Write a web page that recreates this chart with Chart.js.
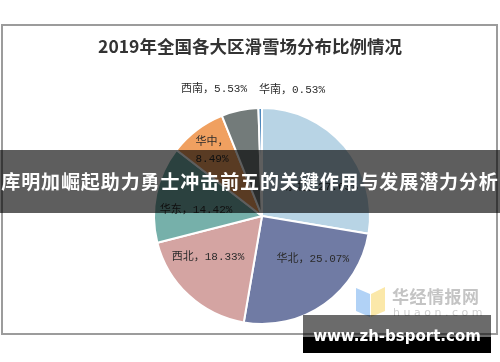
<!DOCTYPE html>
<html>
<head>
<meta charset="utf-8">
<script src="https://cdn.jsdelivr.net/npm/chart.js@4/dist/chart.umd.min.js"></script>
<style>
  html, body { margin: 0; padding: 0; background: #fff; }
  #wrap { position: relative; width: 500px; height: 362px; overflow: hidden; background: #fff; }
  #frame { position: absolute; left: 1px; top: 24px; width: 497px; height: 311px; box-sizing: border-box; border: 2px solid #9c9c9c; }
  #c { position: absolute; left: 0; top: 0; }
  #title { position: absolute; left: 0; top: 34px; width: 500px; text-align: center; font: bold 17.5px "Noto Sans CJK SC", serif; color: #333; line-height: 24px; }
  #banner { position: absolute; left: 0; top: 150px; width: 500px; height: 63px; background: rgba(0,0,0,0.63); }
  #bannerText { position: absolute; left: -2px; top: 168px; width: 504px; text-align: center; font: bold 19px "Noto Sans CJK SC", sans-serif; letter-spacing: 0.9px; color: #fff; line-height: 26px; white-space: nowrap; }
  #logoText { position: absolute; left: 392px; top: 285px; font: bold 17px "Noto Sans CJK SC", sans-serif; color: #c4c4c4; line-height: 22px; letter-spacing: 0.5px; }
  #logoSub { position: absolute; left: 393px; top: 307px; font: 11px "DejaVu Sans", sans-serif; color: #d0d0d0; letter-spacing: 3.5px; line-height: 12px; }
  #logoIcon { position: absolute; left: 355px; top: 286px; }
  #bandGray { position: absolute; left: 303px; top: 315px; width: 188px; height: 22px; background: rgba(0,0,0,0.58); }
  #bandBlack { position: absolute; left: 303px; top: 337px; width: 188px; height: 16px; background: #000; }
  #site { position: absolute; left: 303px; top: 329px; width: 188px; text-align: center; font: bold 15px "DejaVu Sans", sans-serif; color: #fff; line-height: 15px; }
</style>
</head>
<body>
<div id="wrap">
  <div id="frame"></div>
  <canvas id="c" width="500" height="362"></canvas>
  <div id="title">2019年全国各大区滑雪场分布比例情况</div>
  <svg id="logoIcon" width="32" height="32" viewBox="0 0 32 32">
    <polygon points="1,2 15,8 15,31 1,25" fill="#a9cdf5" opacity="0.9"/>
    <polygon points="16,8 30,1 30,25 16,31" fill="#fbe6a0" opacity="0.9"/>
  </svg>
  <div id="logoText">华经情报网</div>
  <div id="logoSub">huaon.com</div>
  <div id="banner"></div>
  <div id="bannerText">库明加崛起助力勇士冲击前五的关键作用与发展潜力分析</div>
  <div id="bandGray"></div>
  <div id="bandBlack"></div>
  <div id="site">www.zh-bsport.com</div>
</div>
<script>
// ---- data ----
const categories = ['东北', '华北', '西北', '华东', '华中', '西南', '华南'];
const shares = [27.63, 25.07, 18.33, 14.42, 8.49, 5.53, 0.53];
const sliceColors = ['#b8d4e5', '#707ba4', '#d4a4a2', '#76b0aa', '#f0a060', '#737b7a', '#4f89bd'];

// label placement (fraction of radius, relative to pie centre) and line-break flags
const labelOffsets = [[0.55, -0.27], [0.47, 0.40], [-0.50, 0.38], [-0.61, -0.056], [-0.463, -0.606], [-0.444, -1.176], [0.278, -1.167]];
const labelBreak = [false, false, false, false, true, false, false];

const labelPlugin = {
  id: 'sliceLabels',
  afterDatasetsDraw(chart) {
    const meta = chart.getDatasetMeta(0);
    const ctx = chart.ctx;
    ctx.save();
    ctx.font = '11px "Liberation Mono", "Noto Sans CJK SC", monospace';
    ctx.fillStyle = '#2b2b2b';
    ctx.textAlign = 'center';
    ctx.textBaseline = 'middle';
    meta.data.forEach((arc, i) => {
      const r = arc.outerRadius;
      const x = arc.x + labelOffsets[i][0] * r;
      const y = arc.y + labelOffsets[i][1] * r;
      const val = shares[i].toFixed(2) + '%';
      if (labelBreak[i]) {
        ctx.fillText(categories[i] + '，', x, y - 8.5);
        ctx.fillText(val, x, y + 8.5);
      } else {
        ctx.fillText(categories[i] + '，' + val, x, y);
      }
    });
    ctx.restore();
  }
};

new Chart(document.getElementById('c'), {
  type: 'pie',
  data: {
    labels: categories,
    datasets: [{
      data: shares,
      backgroundColor: sliceColors,
      borderColor: '#ffffff',
      borderWidth: 2
    }]
  },
  options: {
    responsive: false,
    animation: false,
    devicePixelRatio: 1,
    layout: { padding: { left: 153, right: 129, top: 107, bottom: 37 } },
    plugins: { legend: { display: false }, tooltip: { enabled: false }, title: { display: false } }
  },
  plugins: [labelPlugin]
});
</script>
</body>
</html>
